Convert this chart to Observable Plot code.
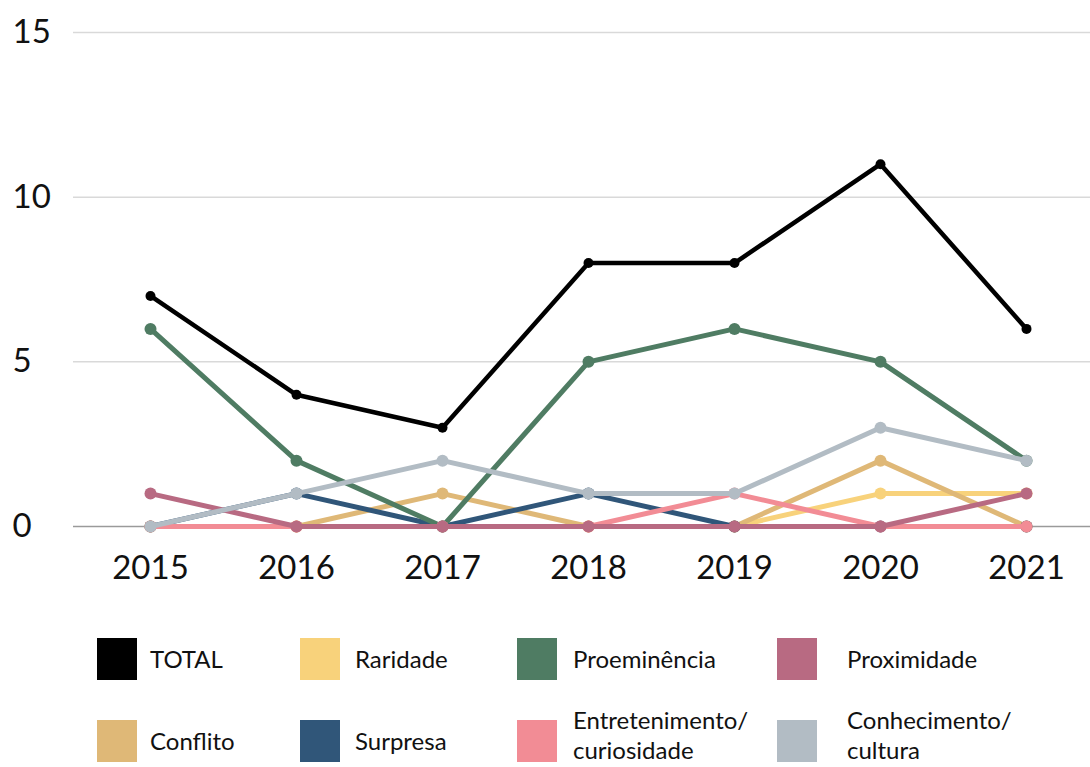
<!DOCTYPE html>
<html>
<head>
<meta charset="utf-8">
<script src="https://cdn.jsdelivr.net/npm/d3@7"></script>
<script src="https://cdn.jsdelivr.net/npm/@observablehq/plot@0.6"></script>
<style>
  html, body { margin: 0; padding: 0; background: #fff; }
  body { width: 1090px; height: 767px; overflow: hidden; font-family: Lato, "Liberation Sans", sans-serif; }
  #legend { position: relative; width: 1090px; height: 167px; }
  .sw { position: absolute; width: 40px; height: 42px; }
  .lbl { position: absolute; font-size: 24px; line-height: 24px; color: #111; white-space: nowrap; }
</style>
</head>
<body>
<div id="chart"></div>
<div id="legend"></div>
<script>
// Years on the horizontal axis
const years = [2015, 2016, 2017, 2018, 2019, 2020, 2021];

// Number of items per news value, by year
const total          = [7, 4, 3, 8, 8, 11, 6];
const raridade       = [0, 0, 0, 0, 0, 1, 1];
const proeminencia   = [6, 2, 0, 5, 6, 5, 2];
const proximidade    = [1, 0, 0, 0, 0, 0, 1];
const conflito       = [0, 0, 1, 0, 0, 2, 0];
const surpresa       = [0, 1, 0, 1, 0, 0, 0];
const entretenimento = [0, 0, 0, 0, 1, 0, 0];
const conhecimento   = [0, 1, 2, 1, 1, 3, 2];

// Series names as shown in the legend (legend order)
const seriesNames = ["TOTAL", "Raridade", "Proeminência", "Proximidade",
                     "Conflito", "Surpresa", "Entretenimento/curiosidade", "Conhecimento/cultura"];
const seriesValues = [total, raridade, proeminencia, proximidade,
                      conflito, surpresa, entretenimento, conhecimento];
const seriesColors = ["#000000", "#f8d27b", "#4f7c63", "#b86a82",
                      "#dfb877", "#305679", "#f28c95", "#b2bcc4"];

// Y axis ticks
const yTicks = [0, 5, 10, 15];

// Long-format table built from the arrays above
const rows = seriesNames.flatMap((name, i) =>
  years.map((year, j) => ({serie: name, year, value: seriesValues[i][j]})));

// Painting order: lower layers first, TOTAL on top
const drawOrder = ["Raridade", "Conflito", "Surpresa", "Proeminência",
                   "Entretenimento/curiosidade", "Proximidade", "Conhecimento/cultura", "TOTAL"];

const seriesMarks = drawOrder.flatMap(name => {
  const data = rows.filter(d => d.serie === name);
  const isTotal = name === "TOTAL";
  return [
    Plot.line(data, {x: "year", y: "value", stroke: "serie", strokeWidth: isTotal ? 4.5 : 5,
                     strokeLinejoin: "round", strokeLinecap: "round"}),
    Plot.dot(data, {x: "year", y: "value", fill: "serie", r: isTotal ? 5 : 6})
  ];
});

const chart = Plot.plot({
  width: 1090,
  height: 600,
  marginTop: 32,
  marginBottom: 74,
  marginLeft: 73,
  marginRight: 0,
  style: {fontFamily: "Lato, 'Liberation Sans', sans-serif", background: "#fff", color: "#111"},
  x: {type: "point", domain: years, padding: 0, insetLeft: 74, insetRight: 62},
  y: {domain: [0, 15]},
  color: {domain: seriesNames, range: seriesColors},
  marks: [
    Plot.ruleY(yTicks.filter(t => t > 0), {stroke: "#d9d9d9", strokeWidth: 1.5}),
    Plot.ruleY([0], {stroke: "#9a9a9a", strokeWidth: 1.5}),
    ...seriesMarks,
    Plot.axisY(yTicks, {tickSize: 0, tickPadding: 61, textAnchor: "start", fontSize: 33, label: null, fill: "#111"}),
    Plot.axisX(years, {tickSize: 0, tickPadding: 29, fontSize: 33, label: null, tickFormat: d => String(d), fill: "#111"})
  ]
});
document.getElementById("chart").appendChild(chart);

// Legend: two rows of four swatches below the chart
const legendCols = [97, 300, 517, 777];
const legendTextLeft = [150, 355, 573, 847];
const legendRowTop = [38, 120];
const legendLines = {
  "Entretenimento/curiosidade": ["Entretenimento/", "curiosidade"],
  "Conhecimento/cultura": ["Conhecimento/", "cultura"]
};
const legend = document.getElementById("legend");
seriesNames.forEach((name, i) => {
  const col = i % 4, row = Math.floor(i / 4);
  const sw = document.createElement("div");
  sw.className = "sw";
  sw.style.left = legendCols[col] + "px";
  sw.style.top = legendRowTop[row] + "px";
  sw.style.background = seriesColors[i];
  legend.appendChild(sw);
  const lines = legendLines[name] || [name];
  // single labels centred on the swatch; two-line labels split around it
  const centers = lines.length === 1 ? [21] : [0, 30];
  lines.forEach((text, k) => {
    const lbl = document.createElement("div");
    lbl.className = "lbl";
    lbl.style.left = legendTextLeft[col] + "px";
    lbl.style.top = (legendRowTop[row] + centers[k] - 12) + "px";
    lbl.textContent = text;
    legend.appendChild(lbl);
  });
});
</script>
</body>
</html>
